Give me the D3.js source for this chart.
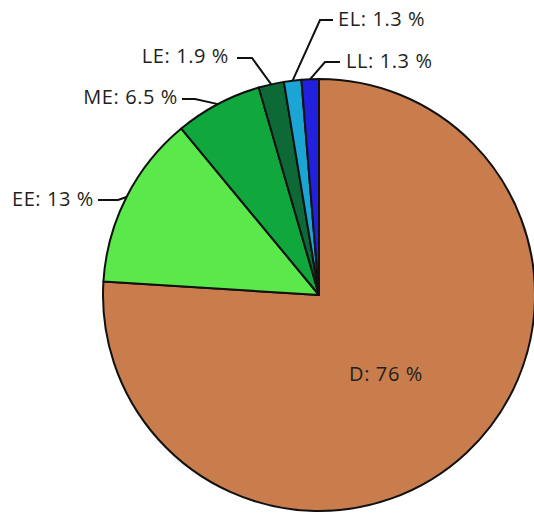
<!DOCTYPE html>
<html>
<head>
<meta charset="utf-8">
<script src="https://cdn.jsdelivr.net/npm/d3@7"></script>
<style>
  html, body { margin: 0; padding: 0; background: #fff; }
  svg { display: block; }
  text { font-family: "Open Sans", "Noto Sans", sans-serif; fill: #231f20; letter-spacing: 0.6px; }
</style>
</head>
<body>
<svg id="chart" width="534" height="513"></svg>
<script>
// ---- data ----
const categories = ["D", "EE", "ME", "LE", "EL", "LL"];
const values = [76, 13, 6.5, 1.9, 1.3, 1.3];
const labels = ["D: 76 %", "EE: 13 %", "ME: 6.5 %", "LE: 1.9 %", "EL: 1.3 %", "LL: 1.3 %"];
const colors = ["#c97c4c", "#5ae84a", "#10a83c", "#0d6a36", "#1aa5d4", "#2121dd"];

// ---- layout (positions of outside labels: elbow point, line end, text anchor) ----
const cx = 319, cy = 295, radius = 216;
const labelLayout = {
  EE: { elbow: [118, 200], end: [98, 200], text: [94, 206], anchor: "end" },
  ME: { elbow: [195, 99], end: [182, 99], text: [178, 104], anchor: "end" },
  LE: { elbow: [252, 58], end: [237, 58], text: [229, 63], anchor: "end" },
  EL: { elbow: [320, 20], end: [333, 20], text: [338, 26], anchor: "start" },
  LL: { elbow: [325, 62], end: [340, 62], text: [346, 68], anchor: "start" }
};

const data = categories.map((c, i) => ({ cat: c, value: values[i], label: labels[i], color: colors[i] }));

const svg = d3.select("#chart");
const g = svg.append("g").attr("transform", `translate(${cx},${cy})`);

const pie = d3.pie().value(d => d.value).sort(null).startAngle(0).endAngle(2 * Math.PI);
const arcs = pie(data);
const arc = d3.arc().innerRadius(0).outerRadius(radius);

g.selectAll("path.slice")
  .data(arcs)
  .join("path")
  .attr("class", "slice")
  .attr("d", arc)
  .attr("fill", d => d.data.color)
  .attr("stroke", "#111")
  .attr("stroke-width", 2)
  .attr("stroke-linejoin", "round");

// inside label for D
const dArc = arcs[0];
svg.append("text")
  .attr("x", 386)
  .attr("y", 381)
  .attr("text-anchor", "middle")
  .attr("font-size", 20)
  .text(dArc.data.label);

// outside labels with leader lines
const outside = arcs.slice(1);
outside.forEach(a => {
  const L = labelLayout[a.data.cat];
  const mid = (a.startAngle + a.endAngle) / 2;
  const px = cx + radius * Math.sin(mid);
  const py = cy - radius * Math.cos(mid);
  svg.append("path")
    .attr("d", d3.line()([[px, py], L.elbow, L.end]))
    .attr("fill", "none")
    .attr("stroke", "#111")
    .attr("stroke-width", 2);
  svg.append("text")
    .attr("x", L.text[0])
    .attr("y", L.text[1])
    .attr("text-anchor", L.anchor)
    .attr("font-size", 20)
    .text(a.data.label);
});
</script>
</body>
</html>
